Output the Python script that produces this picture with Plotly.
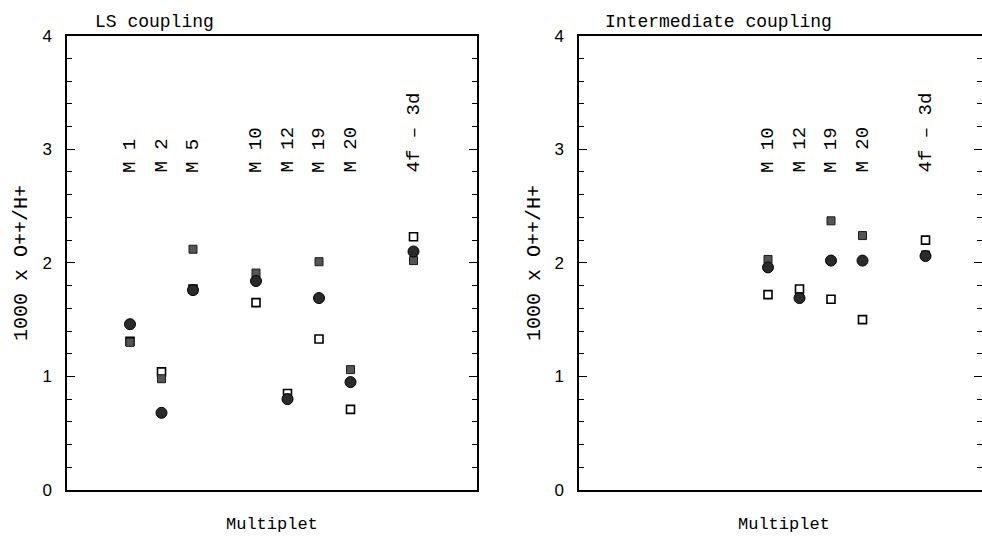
import plotly.graph_objects as go

# ---------------- data ----------------
ls_labels = ["M 1", "M 2", "M 5", "M 10", "M 12", "M 19", "M 20", "4f \u2013 3d"]
ls_slots = [2, 3, 4, 6, 7, 8, 9, 11]
ls_white = [1.31, 1.04, 1.77, 1.65, 0.85, 1.33, 0.71, 2.23]
ls_gray = [1.30, 0.98, 2.12, 1.91, 0.81, 2.01, 1.06, 2.02]
ls_circle = [1.46, 0.68, 1.76, 1.84, 0.80, 1.69, 0.95, 2.10]

ic_labels = ["M 10", "M 12", "M 19", "M 20", "4f \u2013 3d"]
ic_slots = [6, 7, 8, 9, 11]
ic_white = [1.72, 1.77, 1.68, 1.50, 2.20]
ic_gray = [2.03, 1.70, 2.37, 2.24, 2.07]
ic_circle = [1.96, 1.69, 2.02, 2.02, 2.06]

y_ticks = [0, 1, 2, 3, 4]
panel_titles = ["LS coupling", "Intermediate coupling"]
x_title = "Multiplet"
y_title = "1000 x O++/H+"

# ---------------- layout helpers ----------------
W, H = 982, 540
MONO = "Liberation Mono, DejaVu Sans Mono, monospace"
SANS = "Liberation Sans, Arial, sans-serif"


def px(x):
    return x / W


def py(y):
    return (H - y) / H


fig = go.Figure()

panels = [
    ("x", "y", ls_slots, ls_white, ls_gray, ls_circle),
    ("x2", "y2", ic_slots, ic_white, ic_gray, ic_circle),
]
for xa, ya, slots, white, gray, circ in panels:
    fig.add_trace(go.Scatter(
        x=slots, y=white, xaxis=xa, yaxis=ya, mode="markers",
        marker=dict(symbol="square", size=8, color="white",
                    line=dict(color="black", width=1.6)),
        showlegend=False, hoverinfo="y"))
    fig.add_trace(go.Scatter(
        x=slots, y=gray, xaxis=xa, yaxis=ya, mode="markers",
        marker=dict(symbol="square", size=8, color="#555555",
                    line=dict(color="#1a1a1a", width=1)),
        showlegend=False, hoverinfo="y"))
    fig.add_trace(go.Scatter(
        x=slots, y=circ, xaxis=xa, yaxis=ya, mode="markers",
        marker=dict(symbol="circle", size=11, color="#2a2a2a",
                    line=dict(color="#000000", width=1)),
        showlegend=False, hoverinfo="y"))

ydom = [py(490), py(35.7)]
slot_px = 31.5
left_l, left_r = 67, 477
right_l = 579

common_x = dict(showgrid=False, zeroline=False, showticklabels=False,
                ticks="", showline=True, linecolor="black", linewidth=1.5,
                mirror=True, automargin=False)
common_y = dict(range=[0, 4], tickvals=y_ticks, showgrid=False, zeroline=False,
                showline=True, linecolor="black", linewidth=1.5,
                mirror="allticks", ticks="inside", ticklen=8, tickwidth=1.3,
                tickcolor="black", automargin=False,
                minor=dict(dtick=0.2, ticks="inside", ticklen=5, tickwidth=1.1,
                           tickcolor="black", showgrid=False),
                tickfont=dict(family=SANS, size=17, color="black"),
                ticklabelstandoff=10)

fig.update_layout(
    width=W, height=H,
    margin=dict(l=0, r=0, t=0, b=0, pad=0),
    paper_bgcolor="white", plot_bgcolor="white",
    xaxis=dict(domain=[px(left_l), px(left_r)],
               range=[0, (left_r - left_l) / slot_px], **common_x),
    xaxis2=dict(domain=[px(right_l), 1.0],
                range=[0, (W - right_l) / slot_px], anchor="y2", **common_x),
    yaxis=dict(domain=ydom, anchor="x", **common_y),
    yaxis2=dict(domain=ydom, anchor="x2", **common_y),
)

ann = []
# multiplet labels (rotated)
for xa, labels, slots in [("x", ls_labels, ls_slots), ("x2", ic_labels, ic_slots)]:
    for lab, s in zip(labels, slots):
        ann.append(dict(x=s, y=py(175), xref=xa, yref="paper", text=lab,
                        textangle=-90, showarrow=False, xanchor="center",
                        yanchor="bottom",
                        font=dict(family=MONO, size=19, color="black")))

# panel titles
for t, xl in zip(panel_titles, [93, 603]):
    ann.append(dict(x=px(xl), y=py(22), xref="paper", yref="paper", text=t,
                    showarrow=False, xanchor="left", yanchor="middle",
                    font=dict(family=MONO, size=18, color="black")))

# x titles
for xc in [(left_l + left_r) / 2, right_l + (left_r - left_l) / 2]:
    ann.append(dict(x=px(xc), y=py(524), xref="paper", yref="paper",
                    text=x_title, showarrow=False, xanchor="center",
                    yanchor="middle",
                    font=dict(family=MONO, size=17, color="black")))

# y titles
for xc in [21, 534]:
    ann.append(dict(x=px(xc), y=py(263), xref="paper", yref="paper",
                    text=y_title, textangle=-90, showarrow=False,
                    xanchor="center", yanchor="middle",
                    font=dict(family=MONO, size=20, color="black")))

fig.update_layout(annotations=ann)

fig.write_html(
    "out.html",
    config={"displayModeBar": False},
    post_script="document.body.style.margin='0';"
                "document.body.style.overflow='hidden';",
)
